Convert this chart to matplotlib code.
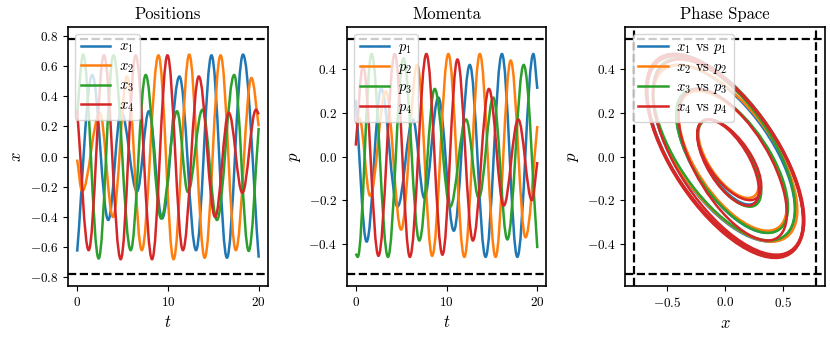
"""Coupled oscillators: positions, momenta and phase space."""

import numpy as np
import matplotlib

matplotlib.use("Agg")
import matplotlib.pyplot as plt
from matplotlib.lines import Line2D
from matplotlib.patches import Circle, PathPatch
from matplotlib.path import Path
from matplotlib.transforms import Affine2D


COLORS = ["#1f77b4", "#ff7f0e", "#2ca02c", "#d62728"]

# turning points (time, value), plus the two end points
x1_t = [0, 1.66, 3.43, 4.85, 6.6, 7.9, 9.36, 11.27, 13.1, 14.8, 16.5, 18.27, 20]
x1_v = [-0.63, 0.54, -0.42, 0.30, -0.23, 0.30, -0.41, 0.53, -0.62, 0.67, -0.67, 0.675, -0.67]
x2_t = [0, 0.55, 2.5, 3.95, 5.5, 7.12, 8.96, 10.62, 12.35, 14.05, 15.8, 17.48, 19.2, 20]
x2_v = [-0.02, -0.23, 0.29, -0.40, 0.53, -0.62, 0.67, -0.68, 0.675, -0.67, 0.67, -0.62, 0.52, 0.20]
x3_t = [0, 0.66, 2.37, 4.0, 5.9, 7.55, 9.25, 11.0, 12.2, 13.8, 15.4, 17.3, 18.9, 20]
x3_v = [0.28, 0.675, -0.675, 0.67, -0.62, 0.54, -0.41, 0.30, -0.235, 0.31, -0.42, 0.54, -0.625, 0.19]
x4_t = [0, 1.27, 2.95, 4.8, 6.45, 8.25, 9.95, 11.65, 13.4, 15.2, 16.7, 18.2, 19.7, 20]
x4_v = [0.31, -0.62, 0.67, -0.68, 0.67, -0.68, 0.67, -0.62, 0.53, -0.40, 0.29, -0.24, 0.31, 0.28]

p1_t = [0, 1.2, 2.8, 4.6, 6.3, 7.55, 9.1, 10.8, 12.56, 14.3, 16.1, 17.8, 19.56, 20]
p1_v = [0.26, -0.39, 0.31, -0.23, 0.17, -0.19, 0.27, -0.34, 0.42, -0.46, 0.47, -0.46, 0.47, 0.31]
p2_t = [0, 0.4, 1.58, 3.3, 5.0, 6.77, 8.42, 10.2, 11.96, 13.67, 15.4, 17.07, 18.7, 20]
p2_v = [0.15, 0.175, -0.18, 0.30, -0.335, 0.42, -0.455, 0.47, -0.46, 0.47, -0.46, 0.44, -0.37, 0.14]
p3_t = [0, 0.22, 1.74, 3.55, 5.26, 7.0, 8.7, 10.4, 12.15, 13.55, 15.15, 16.7, 18.5, 20]
p3_v = [-0.445, -0.46, 0.47, -0.46, 0.45, -0.385, 0.31, -0.23, 0.17, -0.19, 0.27, -0.38, 0.42, -0.42]
p4_t = [0, 0.8, 2.5, 4.3, 5.96, 7.78, 9.55, 11.2, 12.9, 14.67, 16.3, 17.9, 19.4, 20]
p4_v = [0.05, 0.415, -0.455, 0.47, -0.46, 0.47, -0.45, 0.445, -0.385, 0.31, -0.225, 0.17, -0.20, -0.025]

# phase-space loops: (x_min, x_max, p_min, p_max) for each oscillator
rings_1 = [(-0.235, 0.30, -0.22, 0.17), (-0.42, 0.53, -0.35, 0.31), (-0.62, 0.60, -0.39, 0.42), (-0.67, 0.675, -0.46, 0.47)]
rings_2 = [(-0.23, 0.29, -0.19, 0.17), (-0.40, 0.53, -0.34, 0.30), (-0.62, 0.62, -0.39, 0.42), (-0.68, 0.675, -0.46, 0.47)]
rings_3 = [(-0.235, 0.31, -0.23, 0.17), (-0.42, 0.54, -0.35, 0.31), (-0.62, 0.60, -0.385, 0.45), (-0.675, 0.67, -0.46, 0.47)]
rings_4 = [(-0.24, 0.31, -0.20, 0.17), (-0.24, 0.29, -0.225, 0.17), (-0.40, 0.53, -0.385, 0.31),
           (-0.62, 0.67, -0.45, 0.445), (-0.68, 0.67, -0.465, 0.47), (-0.67, 0.68, -0.455, 0.46)]
PHASE_LAG_DEG = 130

X_BOUND = 0.78
P_BOUND = 0.54

POS_LABELS = [r"$x_1$", r"$x_2$", r"$x_3$", r"$x_4$"]
MOM_LABELS = [r"$p_1$", r"$p_2$", r"$p_3$", r"$p_4$"]
PHASE_LABELS = [r"$x_1$ vs $p_1$", r"$x_2$ vs $p_2$", r"$x_3$ vs $p_3$", r"$x_4$ vs $p_4$"]

LW = 1.8


def wave_path(ts, vs):
    """Smooth Bezier path through the turning points (flat tangents there)."""
    a_mid = 1 - 2 / np.pi
    n = len(ts)
    verts = [(ts[0], vs[0])]
    codes = [Path.MOVETO]
    for i in range(n - 1):
        t0, t1, v0, v1 = ts[i], ts[i + 1], vs[i], vs[i + 1]
        dt = t1 - t0
        chord = (v1 - v0) / dt
        s0, a0 = (chord, 1 / 3) if i == 0 else (0.0, a_mid)
        s1, a1 = (chord, 1 / 3) if i == n - 2 else (0.0, a_mid)
        verts += [(t0 + a0 * dt, v0 + s0 * a0 * dt), (t1 - a1 * dt, v1 - s1 * a1 * dt), (t1, v1)]
        codes += [Path.CURVE4] * 3
    return Path(verts, codes)


def add_legend(ax, labels):
    handles = [Line2D([], [], color=c, lw=LW) for c in COLORS]
    ax.legend(handles, labels, loc="upper left", labelspacing=0.3, handletextpad=0.6)


def draw_waves(ax, series, labels, bound, title, ylabel):
    for (ts, vs), color in zip(series, COLORS):
        ax.add_patch(PathPatch(wave_path(ts, vs), fill=False, edgecolor=color, lw=LW, zorder=2))
    ax.axhline(bound, color="k", ls="--", lw=1.6)
    ax.axhline(-bound, color="k", ls="--", lw=1.6)
    ax.set_xlim(-1, 21)
    ax.set_ylim(-1.1 * bound, 1.1 * bound)
    ax.set_xticks([0, 10, 20])
    ax.set_title(title)
    ax.set_xlabel(r"$t$")
    ax.set_ylabel(ylabel)
    add_legend(ax, labels)


def draw_phase(ax, ring_sets):
    phi = np.deg2rad(PHASE_LAG_DEG)
    for rings, color in zip(ring_sets, COLORS):
        for x_lo, x_hi, p_lo, p_hi in rings:
            amp_x, amp_p = (x_hi - x_lo) / 2, (p_hi - p_lo) / 2
            tr = Affine2D.from_values(amp_x, amp_p * np.cos(phi), 0, amp_p * np.sin(phi),
                                      (x_hi + x_lo) / 2, (p_hi + p_lo) / 2)
            ax.add_patch(Circle((0, 0), 1, fill=False, edgecolor=color, lw=LW,
                                transform=tr + ax.transData))
    ax.axvline(X_BOUND, color="k", ls="--", lw=1.6)
    ax.axvline(-X_BOUND, color="k", ls="--", lw=1.6)
    ax.axhline(P_BOUND, color="k", ls="--", lw=1.6)
    ax.axhline(-P_BOUND, color="k", ls="--", lw=1.6)
    ax.set_xlim(-1.1 * X_BOUND, 1.1 * X_BOUND)
    ax.set_ylim(-1.1 * P_BOUND, 1.1 * P_BOUND)
    ax.set_xticks([-0.5, 0.0, 0.5])
    ax.set_yticks([-0.4, -0.2, 0.0, 0.2, 0.4])
    ax.set_title("Phase Space")
    ax.set_xlabel(r"$x$")
    ax.set_ylabel(r"$p$")
    add_legend(ax, PHASE_LABELS)


plt.rcParams.update({
    "font.family": "serif",
    "font.serif": ["cmr10"],
    "mathtext.fontset": "cm",
    "axes.formatter.use_mathtext": True,
    "axes.unicode_minus": True,
    "font.size": 10.5,
    "xtick.labelsize": 9.5,
    "ytick.labelsize": 9.5,
    "axes.titlesize": 12,
    "axes.labelsize": 12,
    "axes.linewidth": 1.2,
})

fig, axes = plt.subplots(1, 3, figsize=(8.3, 3.37), dpi=100)
fig.subplots_adjust(left=0.082, right=0.994, bottom=0.151, top=0.92, wspace=0.395)

draw_waves(axes[0], [(x1_t, x1_v), (x2_t, x2_v), (x3_t, x3_v), (x4_t, x4_v)],
           POS_LABELS, X_BOUND, "Positions", r"$x$")
axes[0].set_yticks(np.round(np.arange(-0.8, 0.81, 0.2), 1))
draw_waves(axes[1], [(p1_t, p1_v), (p2_t, p2_v), (p3_t, p3_v), (p4_t, p4_v)],
           MOM_LABELS, P_BOUND, "Momenta", r"$p$")
axes[1].set_yticks([-0.4, -0.2, 0.0, 0.2, 0.4])
draw_phase(axes[2], [rings_1, rings_2, rings_3, rings_4])

fig.savefig("out.png", dpi=100)
